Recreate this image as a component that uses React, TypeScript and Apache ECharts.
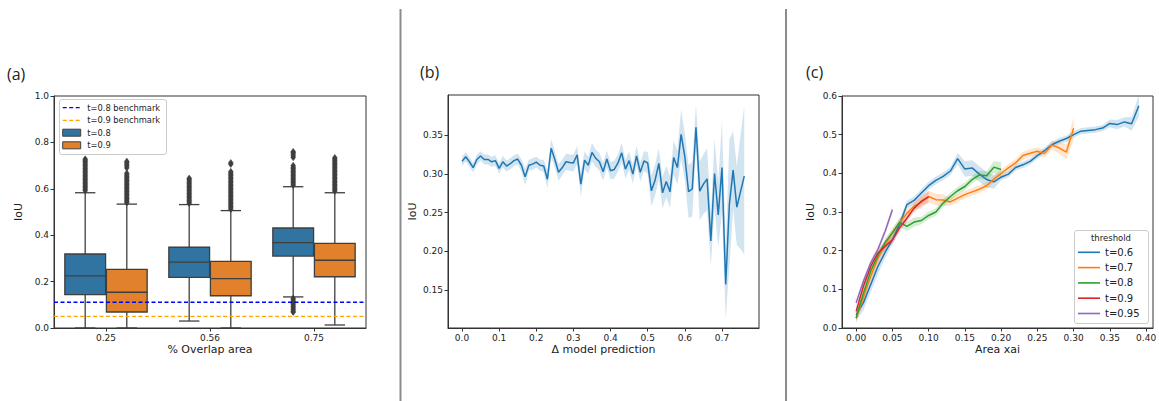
import React, { useEffect, useRef } from 'react';
import * as echarts from 'echarts';

// ---------------- Panel (a): box plots ----------------
const overlapCategories = ['0.25', '0.56', '0.75'];
const boxHueNames = ['t=0.8', 't=0.9'];
// [min whisker, q1, median, q3, max whisker] per overlap category
const boxStatsT08 = [
  [0.0, 0.144, 0.225, 0.319, 0.583],
  [0.03, 0.218, 0.284, 0.348, 0.532],
  [0.134, 0.31, 0.368, 0.431, 0.609],
];
const boxStatsT09 = [
  [0.0, 0.069, 0.154, 0.253, 0.534],
  [0.0, 0.139, 0.213, 0.287, 0.506],
  [0.013, 0.221, 0.292, 0.365, 0.583],
];
const outliersT08 = [
  [0.592, 0.598, 0.604, 0.61, 0.616, 0.622, 0.628, 0.634, 0.64, 0.646, 0.652, 0.658, 0.664, 0.67, 0.676, 0.682, 0.688, 0.694, 0.7, 0.706, 0.712, 0.718, 0.723, 0.728],
  [0.538, 0.544, 0.55, 0.556, 0.562, 0.568, 0.574, 0.58, 0.586, 0.592, 0.598, 0.604, 0.61, 0.616, 0.622, 0.628, 0.634, 0.64, 0.645],
  [0.615, 0.621, 0.627, 0.633, 0.639, 0.645, 0.651, 0.657, 0.663, 0.669, 0.675, 0.681, 0.687, 0.693, 0.7, 0.735, 0.742, 0.75, 0.756, 0.76,
    0.128, 0.121, 0.114, 0.107, 0.1, 0.093, 0.086, 0.079, 0.072, 0.068],
];
const outliersT09 = [
  [0.54, 0.546, 0.552, 0.558, 0.564, 0.57, 0.576, 0.582, 0.588, 0.594, 0.6, 0.606, 0.612, 0.618, 0.624, 0.63, 0.636, 0.642, 0.648, 0.654, 0.66, 0.667, 0.69, 0.698, 0.705, 0.712, 0.718],
  [0.512, 0.518, 0.524, 0.53, 0.536, 0.542, 0.548, 0.554, 0.56, 0.566, 0.572, 0.578, 0.584, 0.59, 0.596, 0.602, 0.608, 0.614, 0.62, 0.626, 0.632, 0.638, 0.644, 0.65, 0.656, 0.662, 0.668, 0.674, 0.706, 0.712],
  [0.59, 0.596, 0.602, 0.608, 0.614, 0.62, 0.626, 0.632, 0.638, 0.644, 0.65, 0.656, 0.662, 0.668, 0.674, 0.68, 0.686, 0.692, 0.698, 0.704, 0.71, 0.716, 0.722, 0.728, 0.734],
];
const benchmarkNames = ['t=0.8 benchmark', 't=0.9 benchmark'];
const benchmarkValues = [0.111, 0.05];
const ticksAY = [0, 0.2, 0.4, 0.6, 0.8, 1.0];

// ---------------- Panel (b): IoU vs delta model prediction ----------------
const deltaPrediction = [
  0.0, 0.01, 0.02, 0.03, 0.04, 0.05, 0.06, 0.07, 0.08, 0.09,
  0.1, 0.11, 0.12, 0.13, 0.14, 0.15, 0.16, 0.17, 0.18, 0.19,
  0.2, 0.21, 0.22, 0.23, 0.24, 0.25, 0.26, 0.27, 0.28, 0.29,
  0.3, 0.31, 0.32, 0.33, 0.34, 0.35, 0.36, 0.37, 0.38, 0.39,
  0.4, 0.41, 0.42, 0.43, 0.44, 0.45, 0.46, 0.47, 0.48, 0.49,
  0.5, 0.51, 0.52, 0.53, 0.54, 0.55, 0.56, 0.57, 0.58, 0.59,
  0.6, 0.61, 0.62, 0.63, 0.64, 0.65, 0.66, 0.67, 0.68, 0.69,
  0.7, 0.71, 0.72, 0.73, 0.74, 0.75, 0.76,
];
const iouByDelta = [
  0.316, 0.322, 0.3155, 0.308, 0.3185, 0.323, 0.3185, 0.3185, 0.3155, 0.317,
  0.307, 0.3155, 0.31, 0.313, 0.317, 0.319, 0.311, 0.296, 0.311, 0.3125,
  0.315, 0.311, 0.31, 0.293, 0.333, 0.3185, 0.302, 0.308, 0.3155, 0.3145,
  0.314, 0.3245, 0.2866, 0.3177, 0.311, 0.3276, 0.32, 0.3155, 0.3026, 0.319,
  0.304, 0.3056, 0.314, 0.327, 0.306, 0.317, 0.2996, 0.323, 0.302, 0.3165,
  0.314, 0.278, 0.292, 0.3134, 0.2754, 0.29, 0.2767, 0.321, 0.308, 0.351,
  0.322, 0.277, 0.2806, 0.36, 0.2776, 0.2866, 0.2935, 0.2134, 0.3004, 0.247,
  0.308, 0.157, 0.261, 0.3047, 0.257, 0.277, 0.297,
];
const iouByDeltaLow = [
  0.31, 0.316, 0.309, 0.302, 0.312, 0.317, 0.312, 0.312, 0.309, 0.31,
  0.3, 0.308, 0.303, 0.306, 0.31, 0.312, 0.303, 0.285, 0.304, 0.305,
  0.308, 0.304, 0.302, 0.281, 0.321, 0.308, 0.291, 0.298, 0.305, 0.304,
  0.303, 0.313, 0.27, 0.306, 0.3, 0.316, 0.309, 0.304, 0.291, 0.308,
  0.293, 0.294, 0.303, 0.315, 0.294, 0.305, 0.287, 0.311, 0.29, 0.304,
  0.3, 0.258, 0.272, 0.293, 0.255, 0.27, 0.256, 0.299, 0.286, 0.319,
  0.292, 0.243, 0.245, 0.332, 0.24, 0.248, 0.253, 0.181, 0.255, 0.205,
  0.25, 0.113, 0.18, 0.255, 0.208, 0.203, 0.196,
];
const iouByDeltaHigh = [
  0.322, 0.328, 0.322, 0.314, 0.325, 0.329, 0.325, 0.325, 0.322, 0.324,
  0.314, 0.323, 0.317, 0.32, 0.324, 0.326, 0.319, 0.307, 0.318, 0.32,
  0.322, 0.318, 0.318, 0.305, 0.345, 0.329, 0.313, 0.318, 0.326, 0.325,
  0.325, 0.336, 0.302, 0.329, 0.322, 0.34, 0.331, 0.327, 0.314, 0.33,
  0.315, 0.317, 0.325, 0.34, 0.318, 0.329, 0.312, 0.336, 0.314, 0.329,
  0.328, 0.298, 0.312, 0.333, 0.296, 0.31, 0.297, 0.343, 0.33, 0.383,
  0.352, 0.311, 0.316, 0.389, 0.316, 0.325, 0.333, 0.25, 0.345, 0.29,
  0.368, 0.205, 0.345, 0.355, 0.31, 0.35, 0.3875,
];
const ticksBX = [0, 0.1, 0.2, 0.3, 0.4, 0.5, 0.6, 0.7];
const ticksBY = [0.15, 0.2, 0.25, 0.3, 0.35];

// ---------------- Panel (c): IoU vs area xai per threshold ----------------
const areaXai = [
  0.0, 0.01, 0.02, 0.03, 0.04, 0.05, 0.06, 0.07, 0.08, 0.09,
  0.1, 0.11, 0.12, 0.13, 0.14, 0.15, 0.16, 0.17, 0.18, 0.19,
  0.2, 0.21, 0.22, 0.23, 0.24, 0.25, 0.26, 0.27, 0.28, 0.29,
  0.3, 0.31, 0.32, 0.33, 0.34, 0.35, 0.36, 0.37, 0.38, 0.39,
];
const thresholdNames = ['t=0.6', 't=0.7', 't=0.8', 't=0.9', 't=0.95'];
const iouT06 = [
  0.034, 0.065, 0.112, 0.159, 0.196, 0.228, 0.268, 0.319, 0.33, 0.349,
  0.368, 0.382, 0.392, 0.406, 0.438, 0.411, 0.414, 0.398, 0.384, 0.378,
  0.39, 0.398, 0.415, 0.422, 0.431, 0.446, 0.459, 0.474, 0.483, 0.49,
  0.5, 0.509, 0.511, 0.513, 0.517, 0.529, 0.526, 0.533, 0.528, 0.575,
];
const errT06 = [
  0.015, 0.02, 0.02, 0.02, 0.015, 0.012, 0.012, 0.01, 0.01, 0.01,
  0.01, 0.01, 0.01, 0.01, 0.015, 0.02, 0.02, 0.02, 0.02, 0.018,
  0.008, 0.008, 0.008, 0.008, 0.008, 0.008, 0.008, 0.008, 0.008, 0.008,
  0.008, 0.008, 0.008, 0.008, 0.008, 0.01, 0.012, 0.012, 0.018, 0.028,
];
const iouT07 = [
  0.025, 0.078, 0.134, 0.18, 0.215, 0.247, 0.272, 0.297, 0.315, 0.325,
  0.34, 0.332, 0.331, 0.326, 0.336, 0.345, 0.352, 0.359, 0.368, 0.385,
  0.4, 0.414, 0.427, 0.446, 0.452, 0.457, 0.451, 0.473, 0.466, 0.455,
  0.517,
];
const errT07 = [
  0.012, 0.015, 0.015, 0.015, 0.01, 0.01, 0.01, 0.01, 0.01, 0.015,
  0.015, 0.015, 0.015, 0.01, 0.01, 0.01, 0.01, 0.01, 0.01, 0.01,
  0.01, 0.01, 0.01, 0.01, 0.01, 0.01, 0.01, 0.012, 0.015, 0.02,
  0.028,
];
const iouT08 = [
  0.026, 0.09, 0.147, 0.187, 0.222, 0.246, 0.273, 0.263, 0.274, 0.278,
  0.291, 0.3, 0.323, 0.34, 0.355, 0.366, 0.384, 0.396, 0.394, 0.416,
  0.41,
];
const errT08 = [
  0.01, 0.01, 0.01, 0.01, 0.01, 0.01, 0.012, 0.012, 0.012, 0.01,
  0.01, 0.01, 0.01, 0.01, 0.01, 0.01, 0.01, 0.01, 0.012, 0.015,
  0.02,
];
const iouT09 = [0.043, 0.108, 0.159, 0.194, 0.211, 0.228, 0.259, 0.284, 0.31, 0.328, 0.339];
const errT09 = [0.01, 0.01, 0.01, 0.01, 0.01, 0.01, 0.01, 0.01, 0.01, 0.012, 0.015];
const iouT095 = [0.065, 0.121, 0.168, 0.203, 0.25, 0.306];
const errT095 = [0.008, 0.008, 0.008, 0.008, 0.008, 0.01];
const ticksCX = [0, 0.05, 0.1, 0.15, 0.2, 0.25, 0.3, 0.35, 0.4];
const ticksCY = [0, 0.1, 0.2, 0.3, 0.4, 0.5, 0.6];

// ---------------- styling ----------------
const FONT = 'DejaVu Sans';
const TXT = '#222222';
const SPINE = '#333333';
const boxColors = ['#3274a1', '#e1812c'];
const boxLine = '#3f3f3f';
const benchmarkColors = ['#0000ff', '#ffa500'];
const lineColors = ['#1f77b4', '#ff7f0e', '#2ca02c', '#d62728', '#9467bd'];

function hexToRgba(hex: string, a: number) {
  const n = parseInt(hex.slice(1), 16);
  return `rgba(${(n >> 16) & 255},${(n >> 8) & 255},${n & 255},${a})`;
}

function valueAxis(gridIndex: number, min: number, max: number, ticks: number[], digits: number, extra: any = {}) {
  return {
    type: 'value',
    gridIndex,
    min,
    max,
    splitLine: { show: false },
    axisLine: { show: true, onZero: false, lineStyle: { color: SPINE, width: 1 } },
    axisTick: { show: true, length: 3.5, lineStyle: { color: SPINE, width: 1 }, customValues: ticks },
    axisLabel: {
      show: true,
      customValues: ticks,
      fontSize: 9,
      color: TXT,
      fontFamily: FONT,
      margin: 5,
      formatter: (v: number) => Number(v).toFixed(digits),
    },
    nameMoveOverlap: false,
    nameTextStyle: { fontSize: 11, color: TXT, fontFamily: FONT },
    ...extra,
  };
}

function bandSeries(xs: number[], lo: number[], hi: number[], color: string, axisIndex: number) {
  return {
    type: 'custom',
    xAxisIndex: axisIndex,
    yAxisIndex: axisIndex,
    clip: true,
    silent: true,
    z: 1,
    data: lo.map((l, i) => [xs[i], l, hi[i]]),
    encode: { x: 0, y: [1, 2] },
    renderItem: (params: any, api: any) => {
      if (params.dataIndex !== 0) return null;
      const top = lo.map((_, i) => api.coord([xs[i], hi[i]]));
      const bottom = lo.map((_, i) => api.coord([xs[i], lo[i]])).reverse();
      return {
        type: 'polygon',
        shape: { points: top.concat(bottom) },
        style: { fill: hexToRgba(color, 0.2), stroke: 'none' },
      };
    },
  };
}

function buildOption() {
  // panel (a) data
  const boxData: number[][] = [];
  boxStatsT08.forEach((s, c) => boxData.push([c, 0, ...s]));
  boxStatsT09.forEach((s, c) => boxData.push([c, 1, ...s]));
  const flierData: number[][] = [];
  outliersT08.forEach((list, c) => list.forEach((v) => flierData.push([c, 0, v])));
  outliersT09.forEach((list, c) => list.forEach((v) => flierData.push([c, 1, v])));
  const benchData = benchmarkValues.map((v, i) => [0, v, i]);

  const hueOffset = (hue: number) => (hue === 0 ? -0.2 : 0.2);

  const cSeries = [
    { name: thresholdNames[0], y: iouT06, e: errT06 },
    { name: thresholdNames[1], y: iouT07, e: errT07 },
    { name: thresholdNames[2], y: iouT08, e: errT08 },
    { name: thresholdNames[3], y: iouT09, e: errT09 },
    { name: thresholdNames[4], y: iouT095, e: errT095 },
  ];

  const series: any[] = [
    // (a) boxes
    {
      type: 'custom',
      name: 'boxes',
      xAxisIndex: 0,
      yAxisIndex: 0,
      data: boxData,
      encode: { x: 0, y: [2, 3, 4, 5, 6] },
      z: 2,
      renderItem: (params: any, api: any) => {
        const cat = api.value(0);
        const hue = api.value(1);
        const band = api.size([1, 0])[0];
        const cx = api.coord([cat, 0])[0] + hueOffset(hue) * band;
        const w = band * 0.392;
        const y = (k: number) => api.coord([cat, api.value(k)])[1];
        const yMin = y(2), yQ1 = y(3), yMed = y(4), yQ3 = y(5), yMax = y(6);
        const st = { stroke: boxLine, lineWidth: 1.3 };
        const cap = w / 4;
        return {
          type: 'group',
          children: [
            { type: 'line', shape: { x1: cx, y1: yQ1, x2: cx, y2: yMin }, style: st },
            { type: 'line', shape: { x1: cx, y1: yQ3, x2: cx, y2: yMax }, style: st },
            { type: 'line', shape: { x1: cx - cap, y1: yMin, x2: cx + cap, y2: yMin }, style: st },
            { type: 'line', shape: { x1: cx - cap, y1: yMax, x2: cx + cap, y2: yMax }, style: st },
            {
              type: 'rect',
              shape: { x: cx - w / 2, y: yQ3, width: w, height: yQ1 - yQ3 },
              style: { fill: boxColors[hue], stroke: boxLine, lineWidth: 1.3 },
            },
            { type: 'line', shape: { x1: cx - w / 2, y1: yMed, x2: cx + w / 2, y2: yMed }, style: st },
          ],
        };
      },
    },
    // (a) fliers
    {
      type: 'custom',
      name: 'fliers',
      xAxisIndex: 0,
      yAxisIndex: 0,
      data: flierData,
      encode: { x: 0, y: 2 },
      z: 2,
      renderItem: (params: any, api: any) => {
        const cat = api.value(0);
        const hue = api.value(1);
        const band = api.size([1, 0])[0];
        const p = api.coord([cat, api.value(2)]);
        const cx = p[0] + hueOffset(hue) * band;
        const cy = p[1];
        return {
          type: 'polygon',
          shape: { points: [[cx, cy - 3.3], [cx + 2.4, cy], [cx, cy + 3.3], [cx - 2.4, cy]] },
          style: { fill: boxLine, stroke: boxLine, lineWidth: 0.5 },
        };
      },
    },
    // (a) benchmark lines
    {
      type: 'custom',
      name: 'benchmarks',
      xAxisIndex: 0,
      yAxisIndex: 0,
      data: benchData,
      encode: { x: 0, y: 1 },
      z: 5,
      renderItem: (params: any, api: any) => {
        const cs = params.coordSys;
        const yy = api.coord([0, api.value(1)])[1];
        const idx = api.value(2);
        return {
          type: 'line',
          shape: { x1: cs.x, y1: yy, x2: cs.x + cs.width, y2: yy },
          style: { stroke: benchmarkColors[idx], lineWidth: 1.3, lineDash: [4, 2.5] },
        };
      },
    },
    // (b) band + line
    bandSeries(deltaPrediction, iouByDeltaLow, iouByDeltaHigh, lineColors[0], 1),
    {
      type: 'line',
      name: 'IoU',
      xAxisIndex: 1,
      yAxisIndex: 1,
      data: deltaPrediction.map((x, i) => [x, iouByDelta[i]]),
      symbol: 'none',
      showSymbol: false,
      z: 3,
      lineStyle: { color: lineColors[0], width: 1.5 },
      itemStyle: { color: lineColors[0] },
    },
  ];

  // (c) bands
  cSeries.forEach((s, k) => {
    const xs = areaXai.slice(0, s.y.length);
    series.push(
      bandSeries(
        xs,
        s.y.map((v, i) => v - s.e[i]),
        s.y.map((v, i) => v + s.e[i]),
        lineColors[k],
        2
      )
    );
  });
  // (c) lines
  cSeries.forEach((s, k) => {
    series.push({
      type: 'line',
      name: s.name,
      xAxisIndex: 2,
      yAxisIndex: 2,
      data: s.y.map((v, i) => [areaXai[i], v]),
      symbol: 'none',
      showSymbol: false,
      z: 3,
      lineStyle: { color: lineColors[k], width: 1.5 },
      itemStyle: { color: lineColors[k] },
    });
  });

  const gridBase = { show: true, borderColor: SPINE, borderWidth: 1, backgroundColor: 'transparent', containLabel: false, outerBoundsMode: 'none' };

  return {
    animation: false,
    textStyle: { fontFamily: FONT },
    grid: [
      { ...gridBase, left: 54, top: 96, width: 312, height: 232 },
      { ...gridBase, left: 448, top: 95, width: 311, height: 233 },
      { ...gridBase, left: 842, top: 96, width: 311, height: 232 },
    ],
    xAxis: [
      {
        type: 'category',
        gridIndex: 0,
        data: overlapCategories,
        axisLine: { show: true, lineStyle: { color: SPINE, width: 1 } },
        axisTick: { show: true, alignWithLabel: true, length: 3.5, lineStyle: { color: SPINE, width: 1 } },
        axisLabel: { fontSize: 9, color: TXT, fontFamily: FONT, margin: 5 },
        splitLine: { show: false },
        name: '% Overlap area',
        nameLocation: 'middle',
        nameGap: 16,
        nameMoveOverlap: false,
        nameTextStyle: { fontSize: 11, color: TXT, fontFamily: FONT },
      },
      valueAxis(1, -0.0377, 0.7997, ticksBX, 1, {
        name: 'Δ model prediction',
        nameLocation: 'middle',
        nameGap: 16,
      }),
      valueAxis(2, -0.0195, 0.4095, ticksCX, 2, {
        name: 'Area xai',
        nameLocation: 'middle',
        nameGap: 16,
      }),
    ],
    yAxis: [
      valueAxis(0, 0, 1, ticksAY, 1, { name: 'IoU', nameLocation: 'middle', nameRotate: 90, nameGap: 30 }),
      valueAxis(1, 0.1009, 0.4017, ticksBY, 2, { name: 'IoU', nameLocation: 'middle', nameRotate: 90, nameGap: 30 }),
      valueAxis(2, 0, 0.6, ticksCY, 1, { name: 'IoU', nameLocation: 'middle', nameRotate: 90, nameGap: 26 }),
    ],
    legend: {
      data: thresholdNames,
      orient: 'vertical',
      left: 1078,
      top: 246.3,
      padding: 0,
      icon: 'rect',
      itemWidth: 22,
      itemHeight: 1.6,
      itemGap: 3.3,
      selectedMode: false,
      textStyle: { fontSize: 10, color: TXT, fontFamily: FONT, lineHeight: 12 },
      z: 10,
    },
    graphic: [
      // panel separators
      { type: 'line', silent: true, shape: { x1: 400.5, y1: 9, x2: 400.5, y2: 401 }, style: { stroke: '#8c8c8c', lineWidth: 2 } },
      { type: 'line', silent: true, shape: { x1: 786, y1: 9, x2: 786, y2: 401 }, style: { stroke: '#8c8c8c', lineWidth: 2 } },
      // panel labels
      { type: 'text', x: 7, y: 74, style: { text: '(a)', fontSize: 16, fontFamily: 'Open Sans', fill: TXT, verticalAlign: 'middle', textVerticalAlign: 'middle' } },
      { type: 'text', x: 420, y: 72, style: { text: '(b)', fontSize: 16, fontFamily: 'Open Sans', fill: TXT, verticalAlign: 'middle', textVerticalAlign: 'middle' } },
      { type: 'text', x: 806, y: 72, style: { text: '(c)', fontSize: 16, fontFamily: 'Open Sans', fill: TXT, verticalAlign: 'middle', textVerticalAlign: 'middle' } },
      // panel (a) legend
      {
        type: 'group',
        z: 20,
        silent: true,
        children: [
          { type: 'rect', shape: { x: 59.5, y: 99.5, width: 107, height: 55, r: 2.5 }, style: { fill: 'rgba(255,255,255,0.8)', stroke: '#cccccc', lineWidth: 1 } },
          { type: 'line', shape: { x1: 62.7, y1: 107.7, x2: 80.7, y2: 107.7 }, style: { stroke: benchmarkColors[0], lineWidth: 1.3, lineDash: [4, 2.5] } },
          { type: 'line', shape: { x1: 62.7, y1: 120.3, x2: 80.7, y2: 120.3 }, style: { stroke: benchmarkColors[1], lineWidth: 1.3, lineDash: [4, 2.5] } },
          { type: 'rect', shape: { x: 62.7, y: 129.2, width: 18, height: 7 }, style: { fill: boxColors[0], stroke: boxLine, lineWidth: 1 } },
          { type: 'rect', shape: { x: 62.7, y: 141.8, width: 18, height: 7 }, style: { fill: boxColors[1], stroke: boxLine, lineWidth: 1 } },
          { type: 'text', x: 87.3, y: 107.7, style: { text: benchmarkNames[0], fontSize: 8.3, fontFamily: FONT, fill: TXT, verticalAlign: 'middle', textVerticalAlign: 'middle' } },
          { type: 'text', x: 87.3, y: 120.3, style: { text: benchmarkNames[1], fontSize: 8.3, fontFamily: FONT, fill: TXT, verticalAlign: 'middle', textVerticalAlign: 'middle' } },
          { type: 'text', x: 87.3, y: 132.7, style: { text: boxHueNames[0], fontSize: 8.3, fontFamily: FONT, fill: TXT, verticalAlign: 'middle', textVerticalAlign: 'middle' } },
          { type: 'text', x: 87.3, y: 145.3, style: { text: boxHueNames[1], fontSize: 8.3, fontFamily: FONT, fill: TXT, verticalAlign: 'middle', textVerticalAlign: 'middle' } },
        ],
      },
      // panel (c) legend frame + title
      { type: 'rect', z: 5, silent: true, shape: { x: 1074.5, y: 230.5, width: 74, height: 93, r: 2.5 }, style: { fill: 'rgba(255,255,255,0.8)', stroke: '#cccccc', lineWidth: 1 } },
      { type: 'text', z: 6, silent: true, x: 1111, y: 237.7, style: { text: 'threshold', fontSize: 8.5, fontFamily: FONT, fill: TXT, align: 'center', textAlign: 'center', verticalAlign: 'middle', textVerticalAlign: 'middle' } },
    ],
    series,
  };
}

export default function App() {
  const ref = useRef<HTMLDivElement>(null);
  useEffect(() => {
    if (!ref.current) return;
    const chart = echarts.init(ref.current, null, { renderer: 'svg' });
    chart.setOption(buildOption() as any);
    return () => chart.dispose();
  }, []);
  return (
    <div
      ref={ref}
      style={{ position: 'absolute', left: 0, top: 0, width: 1159, height: 401, background: '#ffffff' }}
    />
  );
}
